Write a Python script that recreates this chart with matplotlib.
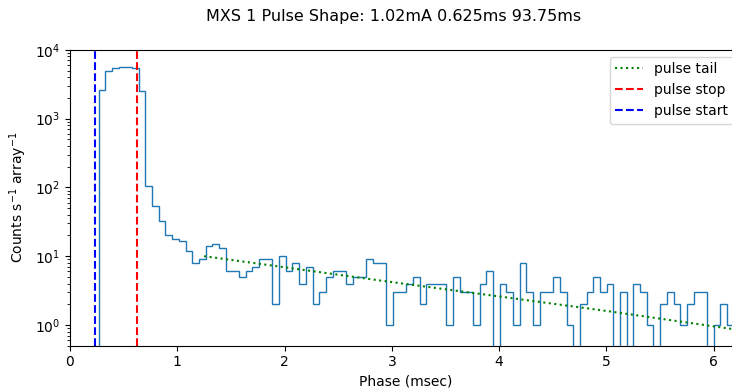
import numpy as np
import matplotlib
matplotlib.use("Agg")
import matplotlib.pyplot as plt

# ---- data ----
bin_start = 0.267      # msec, left edge of first non-empty phase bin
bin_width = 0.0623     # msec
counts = [2600, 4960, 5430, 5540, 5540, 5450, 2550, 106, 54, 32,
          20, 18, 16.5, 12, 8, 9, 14, 15, 13, 6,
          6, 5, 6, 7, 9, 9, 2, 10, 6, 8,
          4, 7, 2, 3, 5, 6, 6, 4, 5, 5,
          9, 8, 8, 1, 3, 3, 4, 5, 2, 4,
          4, 4, 1, 5, 3, 3, 1, 4, 6, 0,
          4, 3, 1, 8, 3, 1, 3, 3, 5, 3,
          1, 0, 2, 3, 5, 3, 4, 0, 3, 0,
          4, 3, 1, 0, 2, 3, 2, 1, 2, 3,
          3, 0, 1, 2, 1, 1]
tail_phase = [1.25, 2.0, 3.0, 4.0, 5.0, 6.25]
tail_rate = [10.0, 6.9, 4.2, 2.6, 1.6, 0.84]
pulse_start = 0.235
pulse_stop = 0.625
title = "MXS 1 Pulse Shape: 1.02mA 0.625ms 93.75ms"

edges = bin_start + bin_width * np.arange(len(counts) + 1)

fig = plt.figure(figsize=(7.32, 3.89), dpi=100)
ax = fig.add_axes([70 / 732, 43.3 / 389, 670.6 / 732, 295.9 / 389])

ax.stairs(counts, edges, color="#1f77b4", linewidth=1.0)
ax.plot(tail_phase, tail_rate, ":", color="g", label="pulse tail")
ax.axvline(pulse_stop, color="r", linestyle="--", label="pulse stop")
ax.axvline(pulse_start, color="b", linestyle="--", label="pulse start")

ax.set_yscale("log")
ax.set_ylim(0.5, 1e4)
ax.set_xlim(0, 6.25)
ax.set_xticks([0, 1, 2, 3, 4, 5, 6])
ax.set_xlabel("Phase (msec)")
ax.set_ylabel("Counts s$^{-1}$ array$^{-1}$")
ax.legend(loc="upper right")

fig.text(394 / 732, 1 - 17 / 389, title, ha="center", va="center", fontsize=11.5)

fig.savefig("out.png", dpi=100)
